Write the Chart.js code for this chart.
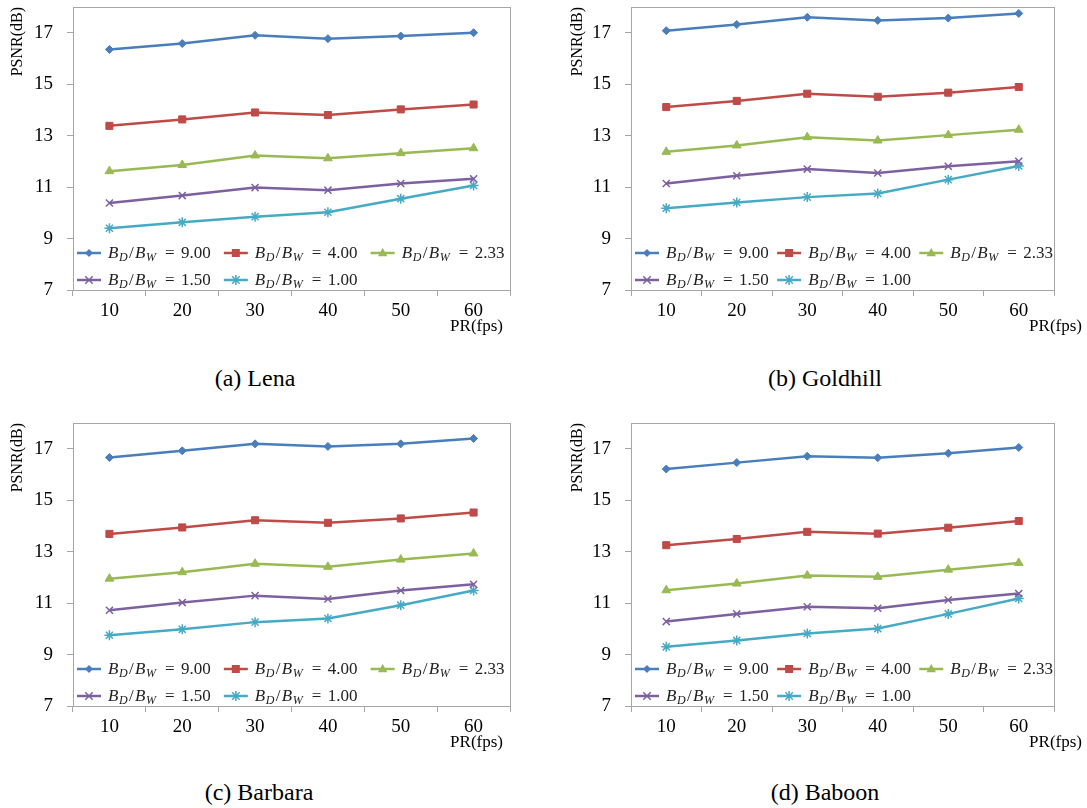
<!DOCTYPE html>
<html>
<head>
<meta charset="utf-8">
<script src="https://cdn.jsdelivr.net/npm/chart.js@4/dist/chart.umd.min.js"></script>
<style>
  html, body { margin:0; padding:0; background:#fff; }
  body { width:1087px; height:808px; position:relative; overflow:hidden; }
  .panel { position:absolute; }
  .cap { position:absolute; font-family:"Liberation Serif","Times New Roman",serif; font-size:24px; color:#000; transform:translate(-50%,-50%); white-space:nowrap; }
</style>
</head>
<body>
<div class="panel" style="left:0;top:0;width:530px;height:345px"><canvas id="c1" width="530" height="345"></canvas></div>
<div class="panel" style="left:560px;top:0;width:527px;height:345px"><canvas id="c2" width="527" height="345"></canvas></div>
<div class="panel" style="left:0;top:416px;width:530px;height:345px"><canvas id="c3" width="530" height="345"></canvas></div>
<div class="panel" style="left:560px;top:416px;width:527px;height:345px"><canvas id="c4" width="527" height="345"></canvas></div>
<div class="cap" style="left:255px;top:378px">(a) Lena</div>
<div class="cap" style="left:825px;top:378px">(b) Goldhill</div>
<div class="cap" style="left:259px;top:792px">(c) Barbara</div>
<div class="cap" style="left:825px;top:792px">(d) Baboon</div>
<script>
// ---- data ----
const categories = ['10', '20', '30', '40', '50', '60'];
const yTickValues = [7, 9, 11, 13, 15, 17];
const ratioLabels = ['9.00', '4.00', '2.33', '1.50', '1.00'];

const lena9   = [16.35, 16.58, 16.90, 16.77, 16.87, 17.00];
const lena4   = [13.38, 13.63, 13.90, 13.80, 14.02, 14.21];
const lena233 = [11.62, 11.86, 12.23, 12.12, 12.32, 12.51];
const lena15  = [10.38, 10.67, 10.98, 10.88, 11.14, 11.32];
const lena1   = [9.40, 9.63, 9.85, 10.02, 10.55, 11.06];

const gold9   = [17.08, 17.32, 17.60, 17.48, 17.57, 17.75];
const gold4   = [14.11, 14.35, 14.63, 14.51, 14.67, 14.89];
const gold233 = [12.37, 12.62, 12.94, 12.81, 13.02, 13.23];
const gold15  = [11.14, 11.44, 11.70, 11.55, 11.81, 12.00];
const gold1   = [10.18, 10.40, 10.61, 10.75, 11.29, 11.82];

const barb9   = [16.66, 16.92, 17.19, 17.09, 17.19, 17.40];
const barb4   = [13.69, 13.94, 14.22, 14.12, 14.29, 14.52];
const barb233 = [11.95, 12.20, 12.53, 12.41, 12.69, 12.93];
const barb15  = [10.72, 11.02, 11.29, 11.16, 11.49, 11.73];
const barb1   = [9.75, 9.98, 10.26, 10.40, 10.92, 11.49];

const babo9   = [16.21, 16.46, 16.71, 16.65, 16.82, 17.05];
const babo4   = [13.25, 13.49, 13.77, 13.70, 13.93, 14.19];
const babo233 = [11.50, 11.76, 12.07, 12.02, 12.30, 12.56];
const babo15  = [10.28, 10.58, 10.86, 10.80, 11.12, 11.37];
const babo1   = [9.30, 9.55, 9.82, 10.01, 10.58, 11.18];

// ---- styles ----
const SERIF = '"Liberation Serif", "Times New Roman", serif';
const colors = ['#4A7EBB', '#BE4B48', '#98B954', '#7D60A0', '#46AAC5'];
const markers = ['rectRot', 'rect', 'triangle', 'crossRot', 'star'];
const markerRadius = [4, 5, 5, 5, 5];
const AXIS = '#a6a6a6';
const Y_MIN = 7, Y_MAX = 18;

function drawMarker(ctx, style, x, y, r, color) {
  ctx.save();
  ctx.fillStyle = color; ctx.strokeStyle = color; ctx.lineWidth = 1.5;
  ctx.beginPath();
  if (style === 'rectRot') {
    ctx.moveTo(x, y - r); ctx.lineTo(x + r, y); ctx.lineTo(x, y + r); ctx.lineTo(x - r, y); ctx.closePath(); ctx.fill();
  } else if (style === 'rect') {
    ctx.rect(x - r * 0.8, y - r * 0.8, r * 1.6, r * 1.6); ctx.fill();
  } else if (style === 'triangle') {
    ctx.moveTo(x, y - r); ctx.lineTo(x + r * 0.95, y + r * 0.65); ctx.lineTo(x - r * 0.95, y + r * 0.65); ctx.closePath(); ctx.fill();
  } else if (style === 'crossRot') {
    const d = r * 0.75;
    ctx.moveTo(x - d, y - d); ctx.lineTo(x + d, y + d); ctx.moveTo(x + d, y - d); ctx.lineTo(x - d, y + d); ctx.stroke();
  } else if (style === 'star') {
    const d = r * 0.75;
    ctx.moveTo(x - d, y - d); ctx.lineTo(x + d, y + d); ctx.moveTo(x + d, y - d); ctx.lineTo(x - d, y + d);
    ctx.moveTo(x, y - r); ctx.lineTo(x, y + r); ctx.stroke();
  }
  ctx.restore();
}

const framePlugin = {
  id: 'frame',
  beforeDatasetsDraw(chart) {
    const {ctx, chartArea: a} = chart;
    ctx.save();
    ctx.strokeStyle = AXIS; ctx.lineWidth = 1;
    ctx.strokeRect(Math.round(a.left) + 0.5, Math.round(a.top) + 0.5, Math.round(a.right - a.left), Math.round(a.bottom - a.top));
    ctx.restore();
  }
};

const legendPlugin = {
  id: 'inLegend',
  afterDatasetsDraw(chart) {
    const {ctx, chartArea: a} = chart;
    const w = a.right - a.left;
    chart.data.datasets.forEach((ds, i) => {
      const col = i % 3, row = Math.floor(i / 3);
      const x0 = a.left + 4 + col * w * 0.336;
      const y = a.bottom - 37 + row * 27;
      ctx.save();
      ctx.strokeStyle = ds.borderColor; ctx.lineWidth = 2.5;
      ctx.beginPath(); ctx.moveTo(x0, y); ctx.lineTo(x0 + 24, y); ctx.stroke();
      drawMarker(ctx, ds.pointStyle, x0 + 12, y, ds.pointRadius, ds.borderColor);
      const tx = x0 + 31;
      ctx.fillStyle = '#222';
      ctx.textBaseline = 'alphabetic';
      const base = y + 5;
      ctx.font = 'italic 17px ' + SERIF;
      ctx.fillText('B', tx, base);
      ctx.font = 'italic 12px ' + SERIF;
      ctx.fillText('D', tx + 11, base + 3);
      ctx.font = '17px ' + SERIF;
      ctx.fillText('/', tx + 21, base);
      ctx.font = 'italic 17px ' + SERIF;
      ctx.fillText('B', tx + 27, base);
      ctx.font = 'italic 12px ' + SERIF;
      ctx.fillText('W', tx + 38, base + 3);
      ctx.font = '17px ' + SERIF;
      ctx.fillText('=', tx + 57, base);
      ctx.fillText(ds.ratio, tx + 73, base);
      ctx.restore();
    });
  }
};

const xTitlePlugin = {
  id: 'xTitle',
  afterDraw(chart) {
    const {ctx, chartArea: a} = chart;
    const dx = chart.options.plugins.xTitle.dx;
    ctx.save();
    ctx.font = '17px ' + SERIF;
    ctx.fillStyle = '#000';
    ctx.textAlign = 'right'; ctx.textBaseline = 'middle';
    ctx.fillText('PR(fps)', a.right + dx, a.bottom + 37);
    ctx.restore();
  }
};

function makePanel(id, series, axisW, rightPad, titleDx) {
  const datasets = series.map((vals, i) => ({
    label: 'BD/BW = ' + ratioLabels[i],
    ratio: ratioLabels[i],
    data: vals,
    borderColor: colors[i],
    backgroundColor: colors[i],
    pointBackgroundColor: colors[i],
    pointBorderColor: colors[i],
    pointStyle: markers[i],
    pointRadius: markerRadius[i],
    pointBorderWidth: (i >= 3) ? 1.5 : 1,
    borderWidth: 2.5,
    tension: 0,
    fill: false
  }));
  new Chart(document.getElementById(id), {
    type: 'line',
    data: { labels: categories, datasets },
    options: {
      responsive: false,
      animation: false,
      devicePixelRatio: 1,
      layout: { padding: { top: 7, right: rightPad, left: 0, bottom: 0 } },
      plugins: { legend: { display: false }, tooltip: { enabled: false }, xTitle: { dx: titleDx } },
      scales: {
        x: {
          type: 'category',
          offset: true,
          grid: { offset: true, drawOnChartArea: false, drawTicks: true, tickLength: 6, color: AXIS },
          border: { display: false },
          ticks: { color: '#000', font: { family: SERIF, size: 19 }, padding: 4, maxRotation: 0 },
          afterFit: s => { s.height = 55; s.paddingLeft = 0; s.paddingRight = 0; }
        },
        y: {
          min: Y_MIN, max: Y_MAX,
          bounds: 'data',
          afterBuildTicks: s => { s.ticks = yTickValues.map(v => ({ value: v })); s.min = Y_MIN; s.max = Y_MAX; },
          grid: { drawOnChartArea: false, drawTicks: true, tickLength: 6, color: AXIS },
          border: { display: false },
          ticks: { color: '#000', font: { family: SERIF, size: 19 }, padding: 14 },
          title: { display: true, text: 'PSNR(dB)', align: 'end', color: '#000', font: { family: SERIF, size: 16 }, padding: { top: 8, bottom: 0 } },
          afterFit: s => { s.width = axisW; s.paddingTop = 0; s.paddingBottom = 0; }
        }
      }
    },
    plugins: [framePlugin, legendPlugin, xTitlePlugin]
  });
}

makePanel('c1', [lena9, lena4, lena233, lena15, lena1], 73, 20, -7);
makePanel('c2', [gold9, gold4, gold233, gold15, gold1], 71, 33, 28);
makePanel('c3', [barb9, barb4, barb233, barb15, barb1], 73, 20, -7);
makePanel('c4', [babo9, babo4, babo233, babo15, babo1], 71, 33, 28);
</script>
</body>
</html>
